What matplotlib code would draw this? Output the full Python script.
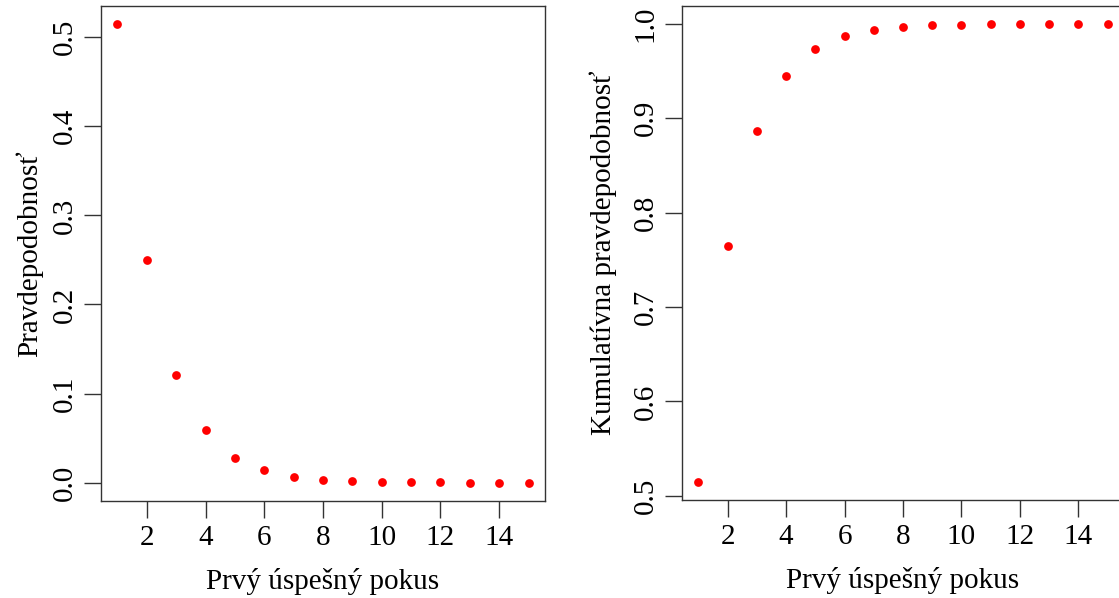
import matplotlib
matplotlib.use("Agg")
import matplotlib.pyplot as plt

plt.rcParams['font.family'] = ['Liberation Serif', 'DejaVu Serif']

trials = list(range(1, 16))
pmf = [0.515, 0.250, 0.121, 0.059, 0.028, 0.014, 0.0066, 0.0032,
       0.0016, 0.0008, 0.0004, 0.0002, 0.0001, 0.00005, 0.00002]
cdf = [0.515, 0.765, 0.886, 0.945, 0.973, 0.987, 0.9934, 0.9968,
       0.9984, 0.9992, 0.9996, 0.9998, 0.9999, 0.99995, 0.99998]

xticks = [2, 4, 6, 8, 10, 12, 14]
yticks_left = [0.0, 0.1, 0.2, 0.3, 0.4, 0.5]
yticks_right = [0.5, 0.6, 0.7, 0.8, 0.9, 1.0]
xlabel = "Prvý úspešný pokus"
ylabel_left = "Pravdepodobnosť"
ylabel_right = "Kumulatívna pravdepodobnosť"

W, H = 1119, 598
fig = plt.figure(figsize=(W / 100, H / 100), dpi=100)
ax1 = fig.add_axes([101 / W, 1 - 501 / H, 444 / W, 495.5 / H])
ax2 = fig.add_axes([682 / W, 1 - 500 / H, 442 / W, 494.5 / H])

FS = 21

def style(ax, y, yticks, ylab, ylab_x):
    ax.plot(trials, y, 'o', color='#ff0000', markersize=6.3, markeredgewidth=0)
    lo, hi = min(y), max(y)
    pad = 0.04 * (hi - lo)
    ax.set_ylim(lo - pad, hi + pad)
    ax.set_xlim(1 - 0.04 * 14, 15 + 0.04 * 14)
    ax.set_xticks(xticks)
    ax.set_xticklabels([str(t) for t in xticks], fontsize=FS)
    ax.set_yticks(yticks)
    ax.set_yticklabels([f"{t:.1f}" for t in yticks], fontsize=FS,
                       rotation=90, va='center')
    ax.tick_params(direction='out', length=12, width=1, pad=5, color='#333333')
    for s in ax.spines.values():
        s.set_linewidth(1)
        s.set_color('#333333')
    ax.set_xlabel(xlabel, fontsize=FS)
    ax.set_ylabel(ylab, fontsize=FS)
    ax.xaxis.set_label_coords(0.5, -0.135)
    ax.yaxis.set_label_coords(ylab_x, 0.5)

style(ax1, pmf, yticks_left, ylabel_left, -0.13)
style(ax2, cdf, yticks_right, ylabel_right, -0.147)

fig.savefig("out.png", dpi=100)
